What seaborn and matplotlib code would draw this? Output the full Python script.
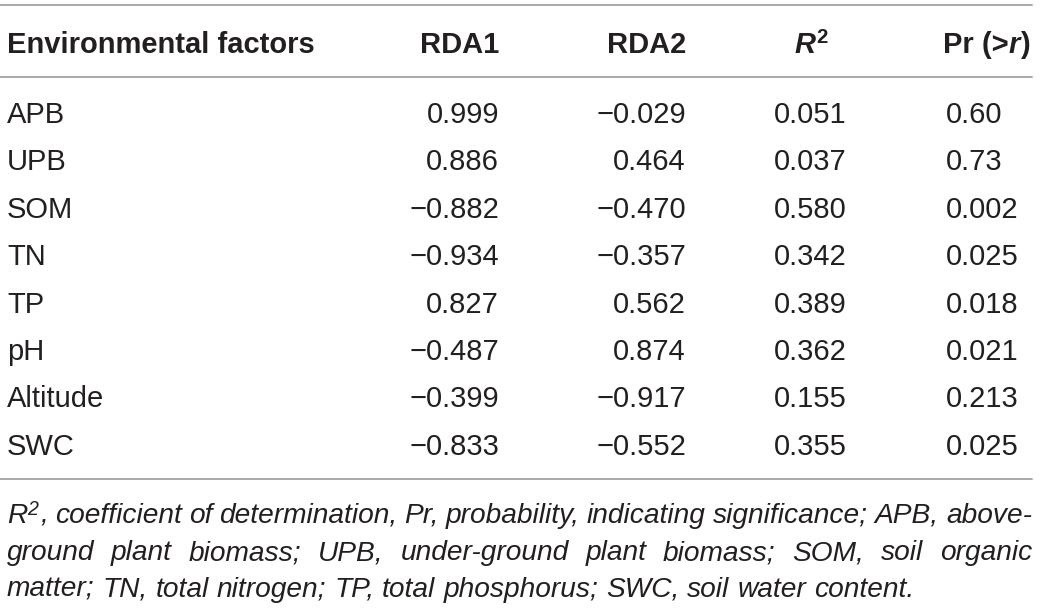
"""
    Table of RDA scores for environmental factors, drawn as text on a blank seaborn axes
"""

import matplotlib
matplotlib.use("Agg")
import matplotlib.pyplot as plt
import seaborn as sns

factors = ["APB", "UPB", "SOM", "TN", "TP", "pH", "Altitude", "SWC"]
rda1 = [0.999, 0.886, -0.882, -0.934, 0.827, -0.487, -0.399, -0.833]
rda2 = [-0.029, 0.464, -0.470, -0.357, 0.562, 0.874, -0.917, -0.552]
r2 = [0.051, 0.037, 0.580, 0.342, 0.389, 0.362, 0.155, 0.355]
pr = ["0.60", "0.73", "0.002", "0.025", "0.018", "0.021", "0.213", "0.025"]

footnote_lines = [
    ", coefficient of determination, Pr, probability, indicating significance; APB, above-",
    "ground plant biomass; UPB, under-ground plant biomass; SOM, soil organic",
    "matter; TN, total nitrogen; TP, total phosphorus; SWC, soil water content.",
]

sns.set_theme(style="white")
plt.rcParams["font.family"] = ["Liberation Sans", "DejaVu Sans"]

INK = "#231f20"
RULE = "#a3a3a3"
FS = 21          # body text, points

fig = plt.figure(figsize=(10.4, 6.08), dpi=100)
ax = fig.add_axes([0, 0, 1, 1])
ax.set_xlim(0, 1040)
ax.set_ylim(608, 0)
ax.axis("off")
renderer = fig.canvas.get_renderer()


def text_width(s, **kw):
    t = ax.text(0, 0, s, **kw)
    w = t.get_window_extent(renderer).width
    t.remove()
    return w


def draw_runs(x, y, runs, ha="left"):
    """draw pieces of text with different styles one after another on a baseline"""
    widths = [text_width(s, **kw) for s, kw, dy in runs]
    total = sum(widths)
    if ha == "right":
        x = x - total
    elif ha == "center":
        x = x - total / 2
    for (s, kw, dy), w in zip(runs, widths):
        ax.text(x, y - dy, s, va="baseline", ha="left", color=INK, **kw)
        x += w


bold = dict(fontsize=FS, fontweight="bold")
bold_it = dict(fontsize=FS, fontweight="bold", fontstyle="italic")
sup_bold = dict(fontsize=FS * 0.7, fontweight="bold")

# rules
ax.plot([0, 1032], [5, 5], color=RULE, lw=1.3)
ax.plot([0, 1032], [77, 77], color=RULE, lw=1.3)
ax.plot([0, 1032], [479, 479], color=RULE, lw=1.3)

# header
hy = 53
draw_runs(7, hy, [("Environmental factors", bold, 0)])
draw_runs(499, hy, [("RDA1", bold, 0)], ha="right")
draw_runs(686, hy, [("RDA2", bold, 0)], ha="right")
draw_runs(811, hy, [("R", bold_it, 0), ("2", sup_bold, 10)], ha="center")
draw_runs(943, hy, [("Pr (>", bold, 0), ("r", bold_it, 0), (")", bold, 0)])


def fmt(v):
    return f"{v:.3f}".replace("-", "\u2212")


# body rows
row_h = 47.4
for i, name in enumerate(factors):
    y = 123 + i * row_h
    ax.text(7, y, name, fontsize=FS, color=INK, va="baseline", ha="left")
    ax.text(499, y, fmt(rda1[i]), fontsize=FS, color=INK, va="baseline", ha="right")
    ax.text(686, y, fmt(rda2[i]), fontsize=FS, color=INK, va="baseline", ha="right")
    ax.text(810, y, fmt(r2[i]), fontsize=FS, color=INK, va="baseline", ha="center")
    ax.text(946, y, pr[i], fontsize=FS, color=INK, va="baseline", ha="left")

# footnote, justified like the journal layout
left, right = 7, 1032
# size the italic so the last (ragged) line ends where it does in the source
base = text_width(footnote_lines[-1], fontsize=10, fontstyle="italic")
fs_note = 10 * (915 - left) / base
note = dict(fontsize=fs_note, fontstyle="italic")
note_sup = dict(fontsize=fs_note * 0.7, fontstyle="italic")
space_w = text_width("a a", **note) - 2 * text_width("a", **note)
lead_w = text_width("R", **note) + text_width("2", **note_sup) + 2
for j, line in enumerate(footnote_lines):
    y = 523 + j * 37
    words = line.split(" ")
    x0 = left
    if j == 0:
        draw_runs(left, y, [("R", note, 0), ("2", note_sup, 8)])
        x0 = left + lead_w
    widths = [text_width(w, **note) if w else 0 for w in words]
    if j < len(footnote_lines) - 1:
        n_gaps = sum(1 for w in words[1:] if w)
        gap = (right - x0 - sum(widths)) / max(n_gaps, 1)
    else:
        gap = space_w
    x = x0
    for w, wd in zip(words, widths):
        if not w:
            continue
        ax.text(x, y, w, color=INK, va="baseline", ha="left", **note)
        x += wd + gap

fig.savefig("out.png", dpi=100)
